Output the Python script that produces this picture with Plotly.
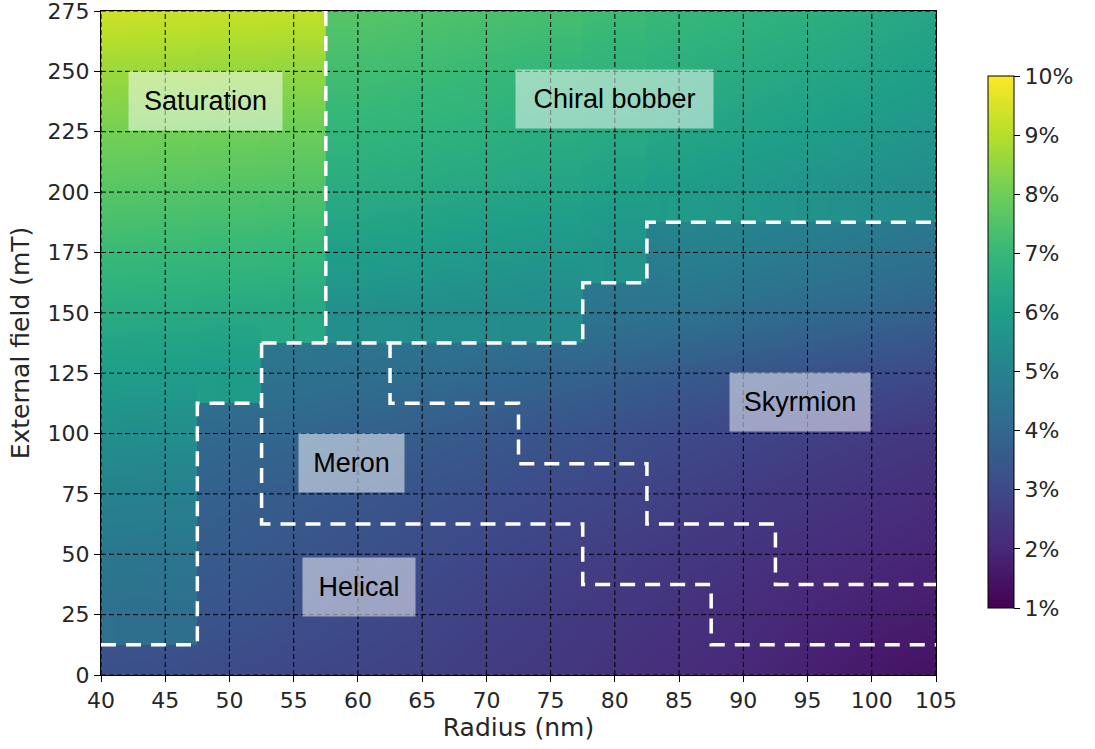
import plotly.graph_objects as go

# ---------------- data ----------------
radius = [40, 45, 50, 55, 60, 65, 70, 75, 80, 85, 90, 95, 100, 105]          # nm
field = [0, 25, 50, 75, 100, 125, 150, 175, 200, 225, 250, 275]            # mT

# underlying field of helical / meron / skyrmion phases (%), rows y = 0..200
base_y = [0, 25, 50, 75, 100, 125, 150, 175, 200]
base_vals = [
    [3.20, 3.15, 3.05, 2.95, 2.85, 2.75, 2.60, 2.50, 2.30, 2.15, 2.00, 1.80, 1.60, 1.40],
    [3.50, 3.45, 3.35, 3.20, 3.05, 2.90, 2.75, 2.60, 2.45, 2.30, 2.15, 1.95, 1.80, 1.70],
    [3.75, 3.65, 3.55, 3.40, 3.25, 3.10, 2.95, 2.80, 2.65, 2.50, 2.35, 2.20, 2.05, 1.90],
    [3.95, 3.85, 3.75, 3.60, 3.45, 3.30, 3.20, 3.05, 2.90, 2.75, 2.60, 2.45, 2.30, 2.15],
    [4.20, 4.10, 4.00, 3.95, 3.80, 3.65, 3.50, 3.35, 3.20, 3.05, 2.90, 2.75, 2.60, 2.45],
    [4.60, 4.55, 4.50, 4.40, 4.30, 4.20, 4.05, 3.90, 3.75, 3.60, 3.45, 3.30, 3.15, 3.05],
    [4.90, 4.85, 4.80, 4.70, 4.65, 4.60, 4.55, 4.50, 4.50, 4.40, 4.25, 4.10, 3.95, 3.75],
    [5.30, 5.25, 5.20, 5.15, 5.10, 5.05, 5.00, 4.95, 4.70, 4.95, 4.85, 4.70, 4.55, 4.40],
    [5.70, 5.65, 5.60, 5.55, 5.50, 5.45, 5.40, 5.35, 5.30, 5.30, 5.25, 5.10, 4.95, 4.80],
]

# saturation phase (%), x = 40..55, rows y = 25..275 (None = other phase)
sat_x = [40, 45, 50, 55]
sat_y = [25, 50, 75, 100, 125, 150, 175, 200, 225, 250, 275]
sat_vals = [
    [4.30, 4.25, None, None],
    [4.60, 4.55, None, None],
    [5.00, 4.95, None, None],
    [5.45, 5.40, None, None],
    [6.00, 5.95, 5.90, None],
    [6.50, 6.45, 6.40, 6.35],
    [7.10, 7.05, 7.00, 6.95],
    [7.60, 7.55, 7.50, 7.45],
    [8.10, 8.05, 8.00, 7.95],
    [8.65, 8.60, 8.55, 8.50],
    [9.35, 9.30, 9.25, 9.20],
]

# chiral bobber phase (%), x = 60..105, rows y = 150..275
bob_x = [60, 65, 70, 75, 80, 85, 90, 95, 100, 105]
bob_y = [150, 175, 200, 225, 250, 275]
bob_vals = [
    [5.45, 5.40, 5.35, 5.30, None, None, None, None, None, None],
    [6.05, 5.95, 5.85, 5.75, 5.60, None, None, None, None, None],
    [6.50, 6.40, 6.30, 6.20, 6.05, 5.90, 5.75, 5.60, 5.45, 5.30],
    [6.90, 6.80, 6.70, 6.55, 6.45, 6.30, 6.15, 6.00, 5.85, 5.65],
    [7.25, 7.15, 7.05, 6.95, 6.80, 6.65, 6.50, 6.35, 6.20, 6.00],
    [7.60, 7.50, 7.40, 7.30, 7.15, 7.00, 6.85, 6.70, 6.50, 6.30],
]

# phase boundaries (nm, mT)
boundaries = {
    "sat_bobber": ([57.5, 57.5], [275, 137.5]),
    "bobber_low": ([52.5, 77.5, 77.5, 82.5, 82.5, 105], [137.5, 137.5, 162.5, 162.5, 187.5, 187.5]),
    "meron_helical": ([52.5, 52.5, 77.5, 77.5, 87.5, 87.5, 105], [137.5, 62.5, 62.5, 37.5, 37.5, 12.5, 12.5]),
    "meron_skyrmion": ([62.5, 62.5, 72.5, 72.5, 82.5, 82.5, 92.5, 92.5, 105],
                       [137.5, 112.5, 112.5, 87.5, 87.5, 62.5, 62.5, 37.5, 37.5]),
    "sat_helical": ([40, 47.5, 47.5, 52.5], [12.5, 12.5, 112.5, 112.5]),
}

phase_names = ["Saturation", "Chiral bobber", "Skyrmion", "Meron", "Helical"]
cbar_vals = [1, 2, 3, 4, 5, 6, 7, 8, 9, 10]
cbar_text = [f"{v}%" for v in cbar_vals]

# ---------------- figure ----------------
ZMIN, ZMAX = 1, 10
TICK_FONT = dict(family="DejaVu Sans", size=22, color="#262626")
fig = go.Figure()


def patch(xs, ys, vals, c0, c1, r0, r1, show=False):
    z = [row[c0:c1 + 1] for row in vals[r0:r1 + 1]]
    fig.add_trace(go.Heatmap(
        x=xs[c0:c1 + 1], y=ys[r0:r1 + 1], z=z, zmin=ZMIN, zmax=ZMAX,
        colorscale="Viridis", zsmooth="best", showscale=show, hoverinfo="skip",
        colorbar=dict(
            thickness=26, len=0.801, lenmode="fraction", y=0.5015, yanchor="middle",
            x=1.0623, xanchor="left", xref="paper", xpad=0, ypad=0,
            outlinecolor="black", outlinewidth=1,
            tickvals=cbar_vals, ticktext=cbar_text, ticks="outside", ticklen=6,
            tickcolor="black", tickfont=TICK_FONT,
        ) if show else None,
    ))


# base field over the whole grid
patch(radius, base_y, base_vals, 0, len(radius) - 1, 0, len(base_y) - 1, show=True)
# saturation pieces (drawn on top of the base)
patch(sat_x, sat_y, sat_vals, 0, 3, 5, 10)
patch(sat_x, sat_y, sat_vals, 1, 2, 4, 10)
patch(sat_x, sat_y, sat_vals, 0, 1, 0, 10)
# chiral bobber pieces
patch(bob_x, bob_y, bob_vals, 3, 9, 2, 5)
patch(bob_x, bob_y, bob_vals, 3, 4, 1, 5)
patch(bob_x, bob_y, bob_vals, 0, 3, 0, 5)

# grid lines (dashed black) at tick positions
gx, gy = [], []
for xv in radius:
    gx += [xv, xv, None]
    gy += [field[0], field[-1], None]
for yv in field:
    gx += [radius[0], radius[-1], None]
    gy += [yv, yv, None]
fig.add_trace(go.Scatter(x=gx, y=gy, mode="lines", hoverinfo="skip", showlegend=False,
                         line=dict(color="black", width=1, dash="5px,3px")))

# phase boundaries
for name, (bx, by) in boundaries.items():
    fig.add_trace(go.Scatter(x=bx, y=by, mode="lines", hoverinfo="skip", showlegend=False,
                             line=dict(color="white", width=3.5, dash="15px,10px")))

# phase labels
label_pos = [(48.1, 237.7, 153), (80.0, 238.5, 197), (94.4, 113.0, 140), (59.5, 87.8, 105), (60.1, 36.4, 112)]
for name, (lx, ly, w) in zip(phase_names, label_pos):
    fig.add_annotation(x=lx, y=ly, text=name, showarrow=False, width=w, height=58,
                       bgcolor="rgba(255,255,255,0.5)", borderpad=0,
                       font=dict(family="Liberation Sans", size=27, color="black"))

axis_common = dict(showgrid=False, zeroline=False, showline=True, linecolor="black", linewidth=1,
                   mirror=True, ticks="outside", ticklen=6, tickcolor="black",
                   tickfont=TICK_FONT, automargin=False, ticklabeloverflow="allow")
TITLE_FONT = dict(family="DejaVu Sans", size=25, color="#262626")
fig.update_xaxes(range=[radius[0], radius[-1]], tickvals=radius,
                 title=dict(text="Radius (nm)", font=TITLE_FONT, standoff=6), **axis_common)
fig.update_yaxes(range=[field[0], field[-1]], tickvals=field,
                 title=dict(text="External field (mT)", font=TITLE_FONT, standoff=10), **axis_common)

fig.update_layout(width=1095, height=749, margin=dict(l=101, r=159, t=11, b=74),
                  paper_bgcolor="white", plot_bgcolor="white", showlegend=False)

fig.write_html("out.html", config={"displayModeBar": False},
               post_script="document.body.style.margin='0px';")
